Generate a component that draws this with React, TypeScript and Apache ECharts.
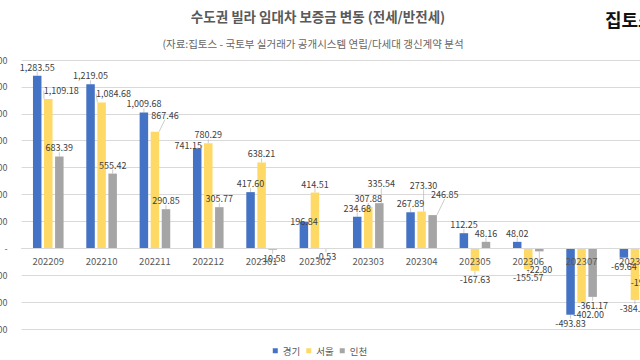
import React, { useEffect, useRef } from "react";
import * as echarts from "echarts";

const categories = ["202209", "202210", "202211", "202212", "202301", "202302", "202303", "202304", "202305", "202306", "202307", "202308"];
const gyeonggi = [1283.55, 1219.05, 1009.68, 741.15, 417.6, 196.84, 234.68, 267.89, 112.25, 48.02, -493.83, -69.64];
const seoul = [1109.18, 1084.68, 867.46, 780.29, 638.21, 414.51, 307.88, 273.3, -167.63, -155.57, -402.0, -384.95];
const incheon = [683.39, 555.42, 290.85, 305.77, -10.58, -0.53, 335.54, 246.85, 48.16, -22.8, -361.17, -194.5];
const seriesNames = ["경기", "서울", "인천"];
const yMin = -600;
const yMax = 1400;
const yStep = 200;

// label nudges (layout only): "seriesIndex-dataIndex" -> [dx, dy]
const labelOffsets: Record<string, [number, number]> = {
  "0-3": [-9, 5],
  "0-5": [0, 8],
  "1-0": [13, 0],
  "1-1": [12, 0],
  "1-2": [10, -8],
  "1-7": [2, -18],
  "1-10": [7, 4],
  "2-6": [2, -11],
  "2-7": [12, -12],
  "2-9": [0, 10],
};

const fmt = (v: number) =>
  v.toLocaleString("en-US", { minimumFractionDigits: 2, maximumFractionDigits: 2 });

export default function App() {
  const ref = useRef<HTMLDivElement>(null);
  useEffect(() => {
    if (!ref.current) return;
    const chart = echarts.init(ref.current, null, { renderer: "svg" });
    const colors = ["#4472C4", "#FFD966", "#A5A5A5"];
    const datasets = [gyeonggi, seoul, incheon];
    const font = "'Noto Sans CJK KR', 'Noto Sans', sans-serif";
    const gridTop = 60;
    const gridHeight = 269;
    const zeroOffset = (gridHeight * -yMin) / (yMax - yMin);
    chart.setOption({
      animation: false,
      backgroundColor: "#ffffff",
      textStyle: { fontFamily: font },
      color: colors,
      grid: { left: 81.6, right: 38.4, top: gridTop, height: gridHeight, containLabel: false },
      legend: {
        data: seriesNames,
        left: "center",
        top: 341,
        itemWidth: 5,
        itemHeight: 5,
        itemGap: 6,
        icon: "rect",
        textStyle: { fontSize: 9.5, color: "#595959", fontFamily: font },
      },
      xAxis: {
        type: "category",
        data: categories,
        position: "bottom",
        offset: -zeroOffset,
        z: 5,
        axisLine: { onZero: false, lineStyle: { color: "#d9d9d9" } },
        axisTick: { show: false },
        axisLabel: { interval: 0, fontSize: 9.5, color: "#595959", margin: 8, fontFamily: font },
      },
      yAxis: {
        type: "value",
        min: yMin,
        max: yMax,
        interval: yStep,
        axisLine: { show: false },
        axisTick: { show: false },
        splitLine: { lineStyle: { color: "#d9d9d9" } },
        axisLabel: {
          fontSize: 9,
          color: "#595959",
          margin: 14,
          formatter: (v: number) => (v === 0 ? "-" : v.toLocaleString("en-US")),
        },
      },
      graphic: [
        {
          type: "text",
          x: 378,
          y: 16,
          style: {
            text: "수도권 빌라 임대차 보증금 변동 (전세/반전세)",
            fill: "#595959",
            font: `bold 13.5px ${font}`,
            textAlign: "center",
            textVerticalAlign: "middle",
          },
        },
        {
          type: "text",
          x: 373,
          y: 43,
          style: {
            text: "(자료:집토스 - 국토부 실거래가 공개시스템 연립/다세대 갱신계약 분석",
            fill: "#666666",
            font: `10.5px ${font}`,
            textAlign: "center",
            textVerticalAlign: "middle",
          },
        },
        {
          type: "text",
          x: 665,
          y: 19,
          style: {
            text: "집토스",
            fill: "#111111",
            font: `bold 18px ${font}`,
            textAlign: "left",
            textVerticalAlign: "middle",
          },
        },
      ],
      series: datasets.map((arr, si) => ({
        name: seriesNames[si],
        type: "bar",
        barWidth: 8.5,
        barGap: "30%",
        data: arr.map((v) => ({
          value: v,
          label: { position: v < 0 ? "bottom" : "top" },
        })),
        label: {
          show: true,
          fontSize: 9,
          color: "#404040",
          fontFamily: font,
          distance: 4,
          formatter: (p: any) => fmt(p.value),
        },
        labelLine: { show: true, lineStyle: { color: "#bfbfbf", width: 0.8 } },
        labelLayout: (params: any) => {
          const o = labelOffsets[`${params.seriesIndex}-${params.dataIndex}`];
          return o ? { dx: o[0], dy: o[1] } : {};
        },
      })),
    });
    return () => chart.dispose();
  }, []);
  return (
    <div style={{ position: "absolute", left: 0, top: 0, width: 640, height: 360, overflow: "hidden", background: "#fff" }}>
      <div ref={ref} style={{ position: "absolute", left: -60, top: 0, width: 760, height: 360 }} />
    </div>
  );
}
